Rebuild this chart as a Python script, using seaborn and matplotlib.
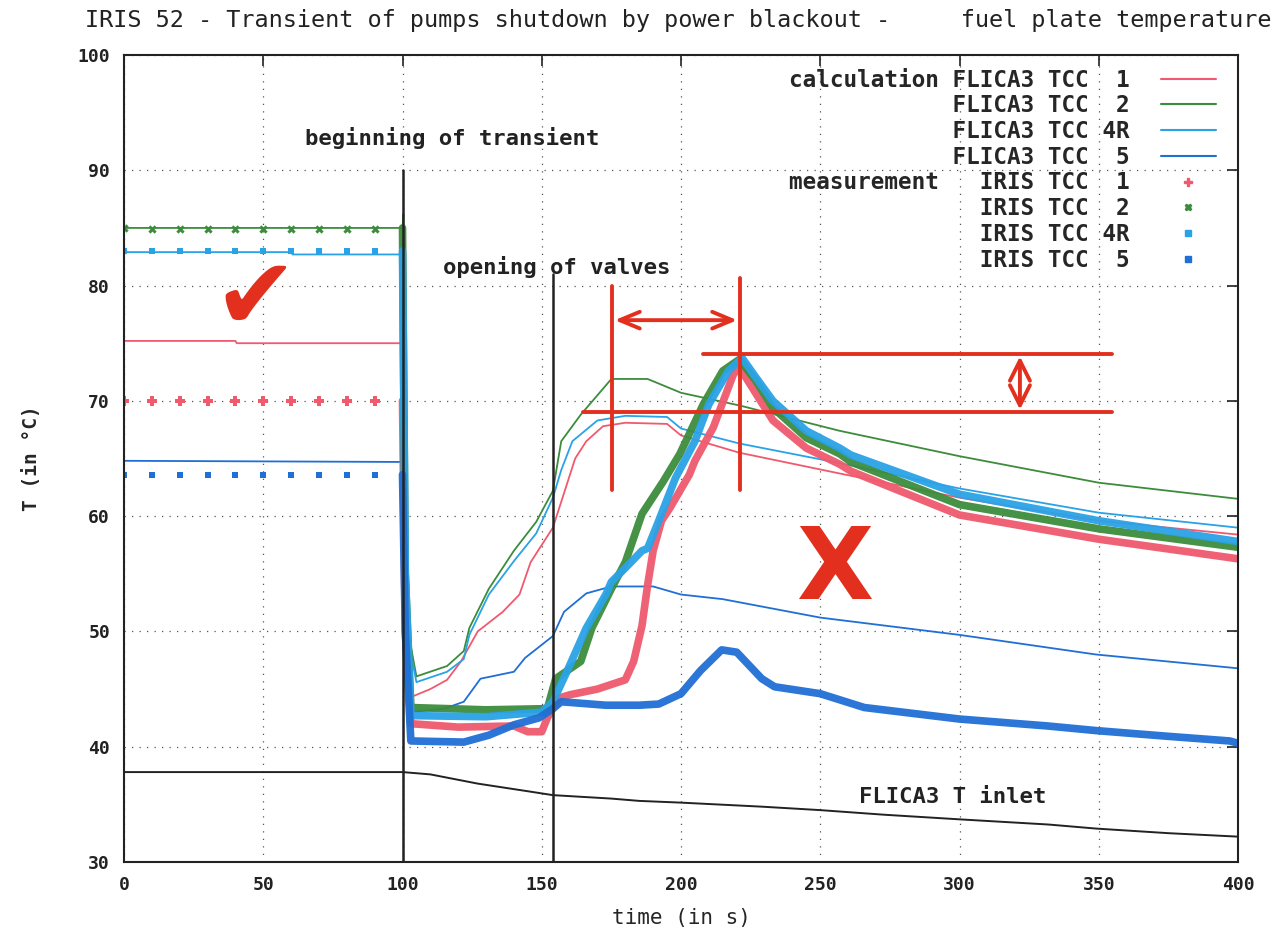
import numpy as np
import pandas as pd
import matplotlib
matplotlib.use("Agg")
import matplotlib.pyplot as plt
from matplotlib.lines import Line2D
import seaborn as sns

# ---------------- data ----------------
x_ticks = [0, 50, 100, 150, 200, 250, 300, 350, 400]
y_ticks = [30, 40, 50, 60, 70, 80, 90, 100]

# calculations (FLICA3)
calc1_t = [0, 40, 40.5, 100, 100.5, 101.5, 103, 110, 116, 121, 127, 136, 142, 146, 150, 154, 158, 162, 166, 172, 180, 195, 200, 221, 257, 300, 350, 400]
calc1_T = [75.2, 75.2, 75.0, 75.0, 70, 50, 44.3, 45.0, 45.8, 47.4, 50.0, 51.7, 53.2, 56.0, 57.5, 59.0, 62.0, 65.0, 66.5, 67.8, 68.1, 68.0, 67.0, 65.5, 63.7, 61.6, 59.6, 58.4]

calc2_t = [0, 100, 100.3, 101, 102, 105, 116, 122, 124, 131, 140, 148, 154, 157, 164, 175, 188, 200, 221, 257, 300, 350, 400]
calc2_T = [85.0, 85.0, 86.2, 60, 50, 46.1, 47.0, 48.3, 50.3, 53.7, 57.0, 59.5, 62.2, 66.5, 68.8, 71.9, 71.9, 70.7, 69.6, 67.4, 65.2, 62.9, 61.5]

calc4_t = [0, 60, 60.5, 100, 100.5, 101.5, 105, 116, 122, 124, 131, 140, 148, 154, 157, 161, 170, 180, 195, 200, 221, 257, 300, 350, 400]
calc4_T = [82.9, 82.9, 82.7, 82.7, 60, 50, 45.6, 46.5, 47.6, 49.7, 53.2, 56.1, 58.5, 61.6, 64.0, 66.5, 68.3, 68.7, 68.6, 67.6, 66.3, 64.6, 62.4, 60.3, 59.0]

calc5_t = [0, 100, 100.5, 101.5, 103, 115, 122, 128, 140, 144, 154, 158, 166, 175, 190, 200, 215, 250, 300, 349, 400]
calc5_T = [64.8, 64.7, 55, 45, 43.0, 43.3, 43.9, 45.9, 46.5, 47.7, 49.6, 51.7, 53.3, 53.9, 53.9, 53.2, 52.8, 51.2, 49.7, 48.0, 46.8]

inlet_t = [0, 100, 110, 127, 146, 154, 175, 185, 200, 229, 250, 273, 300, 332, 349, 375, 400]
inlet_T = [37.8, 37.8, 37.6, 36.8, 36.1, 35.8, 35.5, 35.3, 35.15, 34.8, 34.5, 34.1, 33.7, 33.25, 32.9, 32.5, 32.2]

# measurements (IRIS) before transient: sparse points
pre_t = [0, 10, 20, 30, 40, 50, 60, 70, 80, 90]
meas1_pre = [70.0, 70.0, 70.0, 70.0, 70.0, 70.0, 70.0, 70.0, 70.0, 70.0]
meas2_pre = [85.0, 84.9, 84.9, 84.9, 84.9, 84.9, 84.9, 84.9, 84.9, 84.9]
meas4_pre = [83.0, 83.0, 83.0, 83.0, 83.0, 83.0, 83.0, 83.0, 83.0, 83.0]
meas5_pre = [63.6, 63.6, 63.6, 63.6, 63.6, 63.6, 63.6, 63.6, 63.6, 63.6]

# measurements during transient: dense records
meas1_t = [100, 101, 103, 120, 140, 145, 150, 152, 156, 160, 170, 180, 183, 186, 188, 190, 193, 196, 203, 205, 211.6, 218.8, 221, 227, 233, 245, 257, 261, 300, 350, 400]
meas1_T = [70, 50, 42.0, 41.7, 41.8, 41.3, 41.3, 42.5, 44.2, 44.5, 45.0, 45.8, 47.4, 50.5, 54.0, 57.0, 59.6, 60.7, 63.6, 64.8, 67.7, 72.3, 72.9, 70.6, 68.3, 65.9, 64.5, 63.9, 60.1, 58.0, 56.3]

meas2_t = [100, 101, 103, 130, 152, 155, 164, 168, 175, 180, 186, 193.6, 199.6, 208, 215, 221, 227, 233, 245, 257, 261, 300, 350, 400]
meas2_T = [85, 55, 43.4, 43.2, 43.3, 45.9, 47.4, 50.3, 53.7, 56.0, 60.2, 63.0, 65.4, 69.7, 72.6, 73.6, 71.7, 69.4, 66.8, 65.4, 64.7, 61.0, 58.9, 57.3]

meas4_t = [100, 101, 103, 130, 150, 154, 159, 166, 173, 175, 180, 186, 188, 192, 198, 205, 210, 217, 222, 227, 233, 245, 257, 261, 300, 350, 400]
meas4_T = [83, 55, 42.7, 42.6, 43.0, 43.9, 46.5, 50.3, 53.2, 54.3, 55.5, 57.0, 57.2, 59.6, 63.3, 66.5, 69.7, 72.6, 73.7, 72.0, 70.0, 67.4, 65.9, 65.3, 61.9, 59.6, 57.8]

meas5_t = [100, 101, 103, 122, 131, 140, 149, 154, 157, 173, 185, 192, 200, 207, 214.6, 220, 229, 233.6, 250, 265.8, 300, 331.6, 349, 375, 397, 400]
meas5_T = [63.6, 50, 40.5, 40.4, 41.0, 41.9, 42.5, 43.3, 43.9, 43.6, 43.6, 43.7, 44.6, 46.6, 48.4, 48.2, 45.9, 45.2, 44.6, 43.4, 42.4, 41.8, 41.4, 40.9, 40.5, 40.3]

calc_labels = ["calculation FLICA3 TCC  1", "            FLICA3 TCC  2",
               "            FLICA3 TCC 4R", "            FLICA3 TCC  5"]
meas_labels = ["measurement   IRIS TCC  1", "              IRIS TCC  2",
               "              IRIS TCC 4R", "              IRIS TCC  5"]

# ---------------- style ----------------
sns.set_theme(style="white")
plt.rcParams["font.family"] = ["DejaVu Sans Mono", "DejaVu Sans"]

C_RED = "#ef5a6e"
C_GREEN = "#3c8c3c"
C_LBLUE = "#2aa2e6"
C_BLUE = "#1f6fd4"
C_ANN = "#e3301e"

fig = plt.figure(figsize=(12.79, 9.36), dpi=100)
ax = fig.add_axes([124/1279, 1-862/936, (1238-124)/1279, (862-55)/936])

# calculations
calc = [(calc1_t, calc1_T, C_RED), (calc2_t, calc2_T, C_GREEN),
        (calc4_t, calc4_T, C_LBLUE), (calc5_t, calc5_T, C_BLUE)]
for t, T, c in calc:
    sns.lineplot(x=t, y=T, ax=ax, color=c, linewidth=1.3, sort=False, estimator=None)
sns.lineplot(x=inlet_t, y=inlet_T, ax=ax, color="#222222", linewidth=1.4, sort=False, estimator=None)

# measurements
meas = [(meas1_t, meas1_T, meas1_pre, C_RED, "P", 7),
        (meas2_t, meas2_T, meas2_pre, C_GREEN, "X", 6),
        (meas4_t, meas4_T, meas4_pre, C_LBLUE, "s", 5),
        (meas5_t, meas5_T, meas5_pre, C_BLUE, "s", 5)]
for t, T, pre, c, m, ms in meas:
    sns.lineplot(x=t, y=T, ax=ax, color=c, linewidth=5.5, sort=False, estimator=None, alpha=0.95)
    sns.scatterplot(x=pre_t, y=pre, ax=ax, color=c, marker=m, s=ms**2, linewidth=0)

# vertical event lines
ax.plot([100, 100], [30, 90], color="#222222", lw=1.8)
ax.plot([154, 154], [30, 81], color="#222222", lw=1.8)

# axes
ax.set_xlim(0, 400)
ax.set_ylim(30, 100)
ax.set_xticks(x_ticks)
ax.set_yticks(y_ticks)
ax.set_xticklabels([str(v) for v in x_ticks], fontsize=13, fontweight="bold", color="#222")
ax.set_yticklabels([str(v) for v in y_ticks], fontsize=13, fontweight="bold", color="#222")
ax.tick_params(direction="in", length=8, width=1.2, top=True, right=True, pad=10, colors="#222")
for s in ax.spines.values():
    s.set_color("#222222")
    s.set_linewidth(1.5)
ax.grid(True, linestyle=(0, (1, 5)), color="#555555", linewidth=0.9)
ax.set_xlabel("time (in s)", fontsize=15, labelpad=10)
ax.set_ylabel("T (in °C)", fontsize=14, fontweight="bold", labelpad=26)

# legend
handles = [Line2D([], [], color=c, lw=1.5) for _, _, c in calc] + \
          [Line2D([], [], color=c, lw=0, marker=m, markersize=ms*0.8) for _, _, _, c, m, ms in meas]
ax.legend(handles, calc_labels + meas_labels, loc="upper right", frameon=False,
          prop={"family": "DejaVu Sans Mono", "weight": "bold", "size": 16.3},
          markerfirst=False, handlelength=2.4, handletextpad=1.4, labelspacing=0.12,
          borderaxespad=0.2, bbox_to_anchor=(0.992, 1.0))

# texts
ax.text(65, 92.8, "beginning of transient", fontsize=16, fontweight="bold", va="center", color="#222")
ax.text(114.5, 81.6, "opening of valves", fontsize=16, fontweight="bold", va="center", color="#222")
ax.text(264, 35.6, "FLICA3 T inlet", fontsize=16, fontweight="bold", va="center", color="#222")
fig.text(85/1279, 1-20/936, "IRIS 52 - Transient of pumps shutdown by power blackout -     fuel plate temperature",
         fontsize=16.9, va="center", ha="left", color="#222")

# red annotations
ax.plot([175.2, 175.2], [62.3, 80.0], color=C_ANN, lw=2.8)
ax.plot([221.2, 221.2], [62.3, 80.7], color=C_ANN, lw=2.8)
ax.plot([207.9, 354.8], [74.1, 74.1], color=C_ANN, lw=2.8)
ax.plot([164.8, 354.8], [69.0, 69.0], color=C_ANN, lw=2.8)
ax.annotate("", xy=(175.2, 77.0), xytext=(221.2, 77.0),
            arrowprops=dict(arrowstyle="<->,head_length=1.2,head_width=0.5", color=C_ANN, lw=2.8))
ax.annotate("", xy=(321.7, 74.1), xytext=(321.7, 69.0),
            arrowprops=dict(arrowstyle="<->,head_length=1.2,head_width=0.6", color=C_ANN, lw=2.8))
ax.text(255.3, 55.2, "X", fontsize=72, fontweight="bold", color=C_ANN, ha="center", va="center",
        family="DejaVu Sans")
ax.text(47, 78.6, "\u2714", fontsize=72, color=C_ANN, ha="center", va="center", family="DejaVu Sans")

fig.savefig("out.png", dpi=100)
